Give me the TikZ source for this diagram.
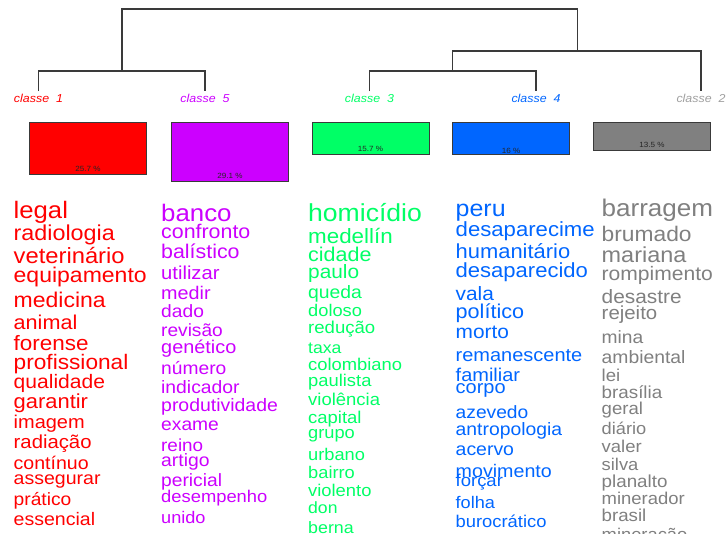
\documentclass[tikz,border=0pt]{standalone}
\usepackage{fontspec}
\usepackage{graphicx}
\setmainfont{Liberation Sans}
\definecolor{cred}{HTML}{FF0000}
\definecolor{cpurple}{HTML}{CC00FF}
\definecolor{cgreen}{HTML}{00FF66}
\definecolor{cblue}{HTML}{0066FF}
\definecolor{cgrey}{HTML}{808080}
\definecolor{cgreylab}{HTML}{A0A0A0}
\definecolor{cline}{HTML}{3A3A3A}
\newcommand{\hstr}[1]{\scalebox{1.08}[1]{#1}}
\tikzset{
  dendro/.style={draw=cline, line width=1.2pt},
  classlab/.style={inner sep=0pt, anchor=center, font=\fontsize{11.5pt}{12pt}\selectfont\itshape},
  barbox/.style={draw=cline, line width=1.1pt, anchor=north west, inner sep=0pt, minimum width=117pt},
  pct/.style={inner sep=0pt, anchor=center, text=black!85, font=\fontsize{7.5pt}{7.5pt}\selectfont},
  wrd/.style={inner sep=0pt, anchor=base west}
}
\begin{document}
\begin{tikzpicture}[x=1pt,y=-1pt]
\useasboundingbox (0,0) rectangle (728,533);
\fill[white] (0,0) rectangle (728,533);
\begin{scope}
\clip (0,0) rectangle (728,533);
% dendrogram
\coordinate (L1) at (38.5,91);
\coordinate (L5) at (205,91);
\coordinate (L3) at (369.5,91);
\coordinate (L4) at (536,91);
\coordinate (L2) at (701,91);
\coordinate (J15) at (122,71);
\coordinate (J34) at (452.5,71);
\coordinate (J234) at (577.5,51);
\coordinate (root) at (350,9);
\draw[dendro] (L1) |- (J15) -| (L5);
\draw[dendro] (L3) |- (J34) -| (L4);
\draw[dendro] (J34) |- (J234) -| (L2);
\draw[dendro] (J15) |- (root) -| (J234);
% class labels
\node[classlab, text=cred] (cl1) at (38.5,98) {\hstr{classe\ \ 1}};
\node[classlab, text=cpurple] (cl5) at (205,98) {\hstr{classe\ \ 5}};
\node[classlab, text=cgreen] (cl3) at (369.5,98) {\hstr{classe\ \ 3}};
\node[classlab, text=cblue] (cl4) at (536,98) {\hstr{classe\ \ 4}};
\node[classlab, text=cgreylab] (cl2) at (701,98) {\hstr{classe\ \ 2}};
% bars
\node[barbox, fill=cred, minimum height=51.7pt] (b1) at (29,122.3) {};
\node[barbox, fill=cpurple, minimum height=58.4pt] (b5) at (171,122.3) {};
\node[barbox, fill=cgreen, minimum height=32pt] (b3) at (311.5,122.3) {};
\node[barbox, fill=cblue, minimum height=32pt] (b4) at (452,122.3) {};
\node[barbox, fill=cgrey, minimum height=27.7pt] (b2) at (593,122.3) {};
\node[pct] (p1) at ([yshift=6pt]b1.south) {\hstr{25.7 \%}};
\node[pct] (p5) at ([yshift=6pt]b5.south) {\hstr{29.1 \%}};
\node[pct] (p3) at ([yshift=6.5pt]b3.south) {\hstr{15.7 \%}};
\node[pct] (p4) at ([yshift=4.8pt]b4.south) {\hstr{16 \%}};
\node[pct] (p2) at ([yshift=6pt]b2.south) {\hstr{13.5 \%}};
% column 1
\foreach \t/\y/\s [count=\i] in {legal/218/23.8, radiologia/240/21.6, veterinário/263/22, equipamento/282/21.3, medicina/307/21.3, animal/329/20, forense/350/20.8, profissional/369/21, qualidade/388/19.5, garantir/408/20.3, imagem/428/18.5, radiação/448/18.8, contínuo/469/18.1, assegurar/484/18.1, prático/505/17.8, essencial/525/18.1}
  \node[wrd, text=cred, font=\fontsize{\s pt}{\s pt}\selectfont] (c1w\i) at (13.5,\y) {\hstr{\t}};
% column 2
\foreach \t/\y/\s [count=\i] in {banco/221/23.9, confronto/238.5/19.8, balístico/258/19.8, utilizar/279/18.7, medir/299.5/18.3, dado/317.5/17.8, revisão/336.5/17.7, genético/353/18.4, número/374.5/17.8, indicador/393/17.9, produtividade/411.5/18, exame/430/17.8, reino/451/17.5, artigo/466.5/17.9, pericial/486.5/17.8, desempenho/502.5/17, unido/523/16.8}
  \node[wrd, text=cpurple, font=\fontsize{\s pt}{\s pt}\selectfont] (c2w\i) at (161,\y) {\hstr{\t}};
% column 3
\foreach \t/\y/\s [count=\i] in {homicídio/221.5/24.6, medellín/243/20.7, cidade/261.5/19.9, paulo/278/19.3, queda/298/17.9, doloso/316.5/16.9, redução/333/17.2, taxa/353/16.3, colombiano/370/17, paulista/386.5/17, violência/405/17.1, capital/423/17.1, grupo/438/16.9, urbano/460/16.9, bairro/478/16.9, violento/496.5/17, don/513.3/16.3, berna/533/16.5}
  \node[wrd, text=cgreen, font=\fontsize{\s pt}{\s pt}\selectfont] (c3w\i) at (308,\y) {\hstr{\t}};
% column 4
\begin{scope}
\clip (440,190) rectangle (594,533);
\foreach \t/\y/\s [count=\i] in {peru/216/23.1, desaparecimento/236.5/20.5, humanitário/258/20.3, desaparecido/277/20.4, vala/300/19.3, político/318/20, morto/338/19.3, remanescente/361.5/18.5, familiar/381.5/18.5, corpo/393/18.5, azevedo/418/17.8, antropologia/435/17.9, acervo/455/18, movimento/477/18.2, forçar/486.5/17.1, folha/508/16.8, burocrático/527/17}
  \node[wrd, text=cblue, font=\fontsize{\s pt}{\s pt}\selectfont] (c4w\i) at (455.5,\y) {\hstr{\t}};
\end{scope}
% column 5
\foreach \t/\y/\s [count=\i] in {barragem/216.5/24.1, brumado/241/21.1, mariana/262.5/21.7, rompimento/280/19.5, desastre/303/19.3, rejeito/319/18.9, mina/343/17.8, ambiental/363/17.9, lei/381/17.2, brasília/398.5/17.4, geral/414/17.2, diário/434/16.9, valer/452/17.1, silva/470.5/17, planalto/487.5/17.4, minerador/504.5/17.1, brasil/521.5/17.3, mineração/540/17}
  \node[wrd, text=cgrey, font=\fontsize{\s pt}{\s pt}\selectfont] (c5w\i) at (601.5,\y) {\hstr{\t}};
\end{scope}
\end{tikzpicture}
\end{document}
